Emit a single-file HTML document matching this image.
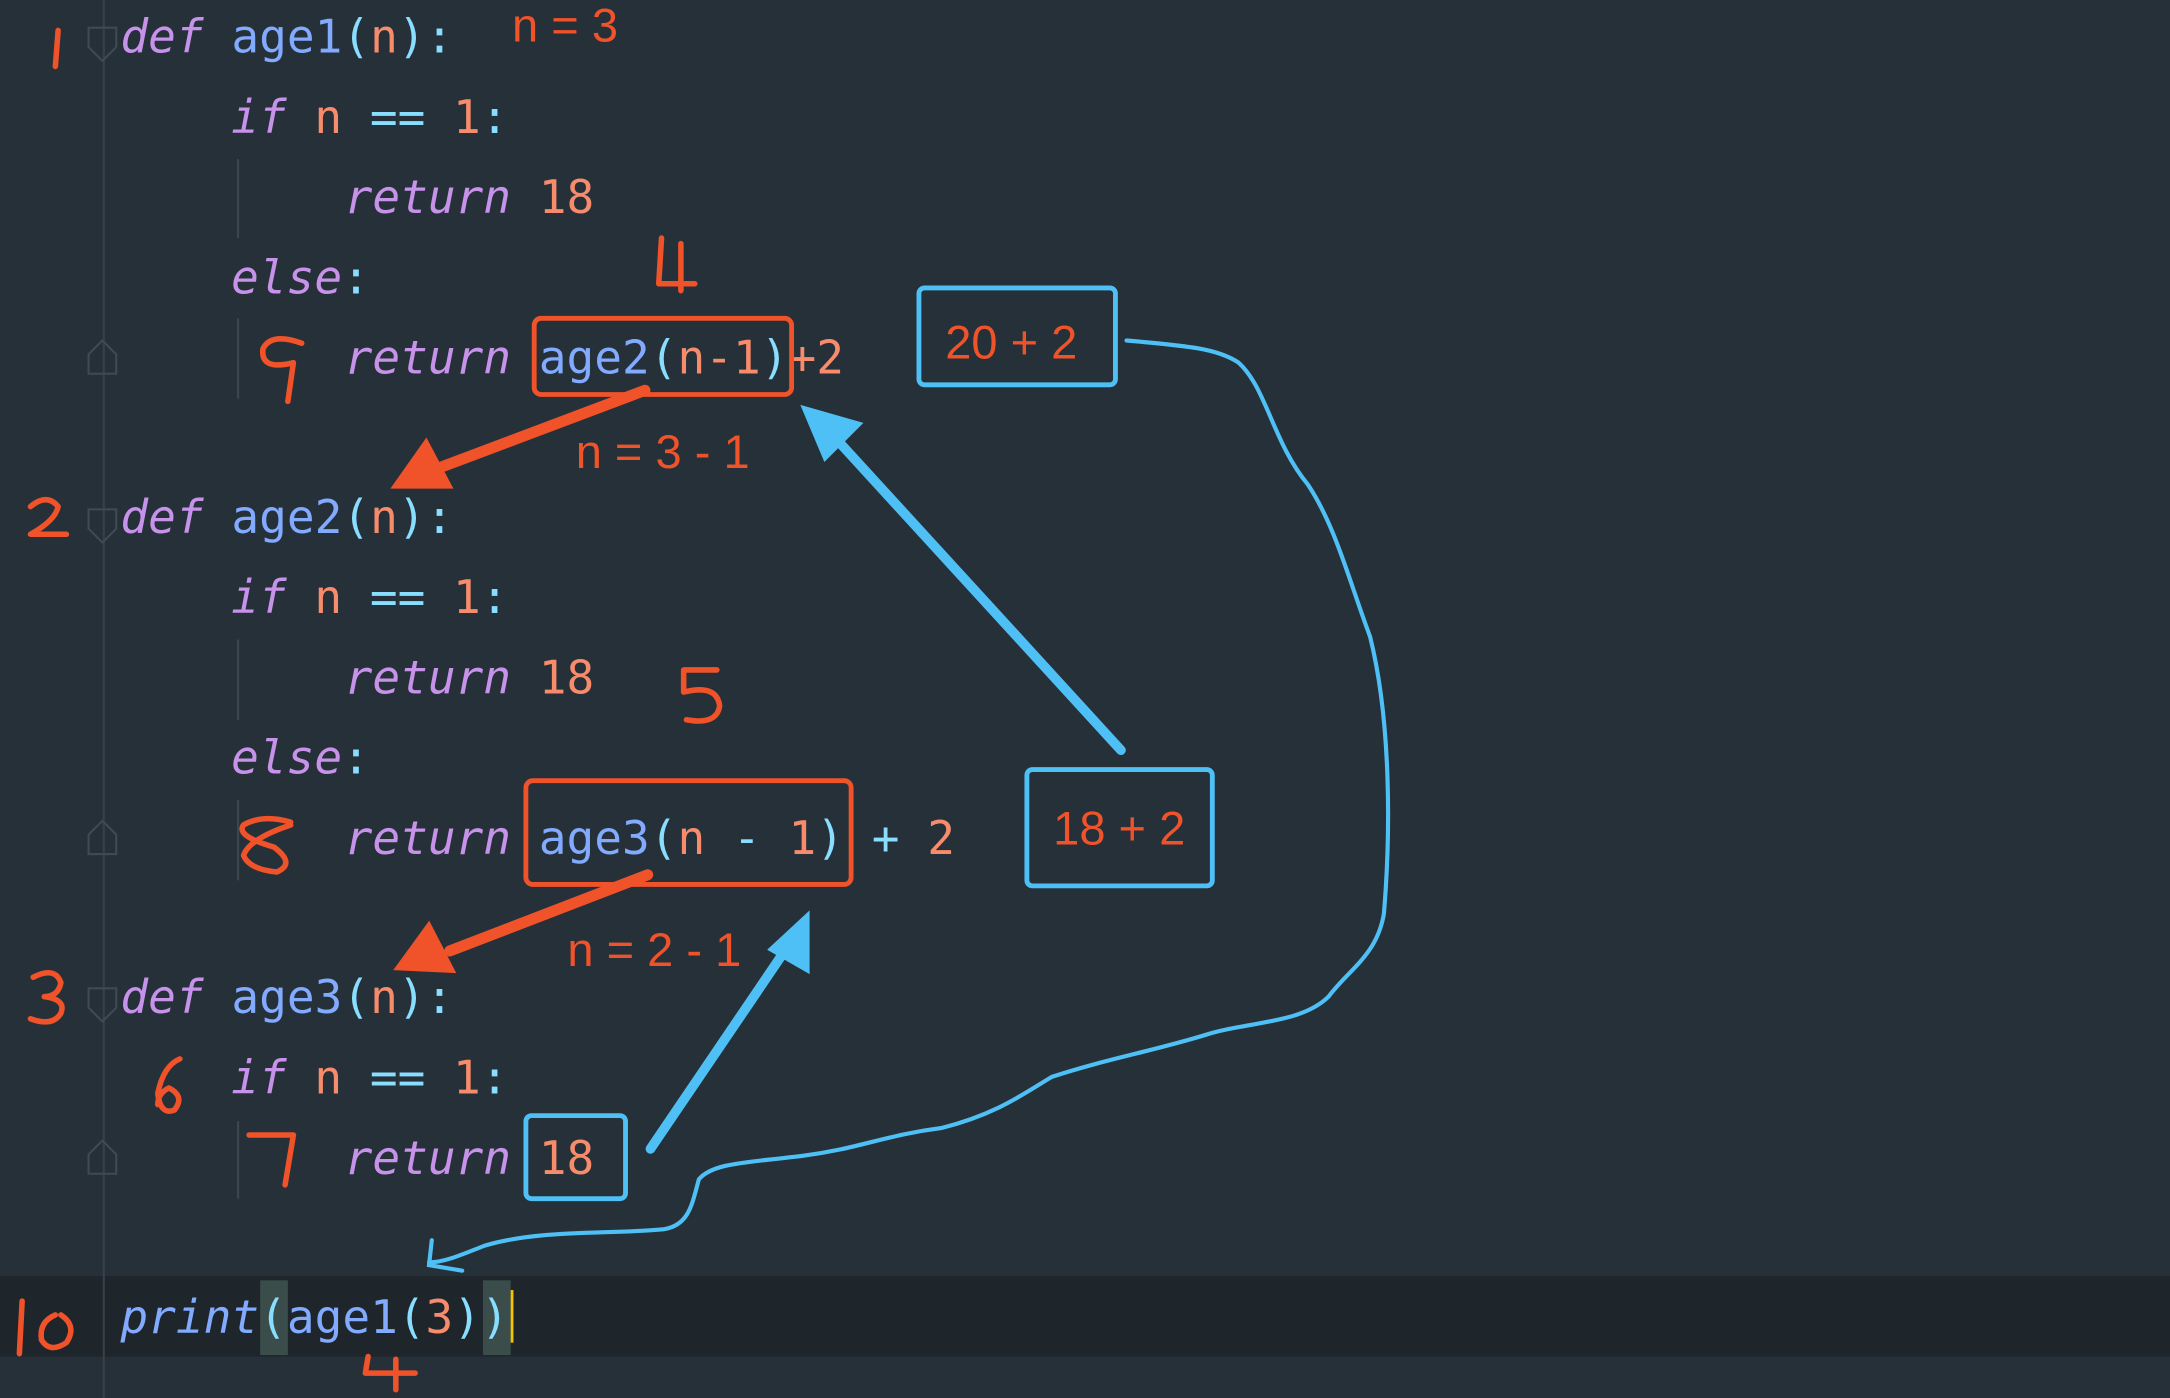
<!DOCTYPE html>
<html><head><meta charset="utf-8"><style>
html,body{margin:0;padding:0;background:#263038;}
svg{display:block}
.c{font-family:"DejaVu Sans Mono","Liberation Mono",monospace;font-size:33.3px}
.k{fill:#c792ea;font-style:italic}
.f{fill:#82aaff}
.o{fill:#f78c6c}
.p{fill:#89ddff}
.h{font-family:"Liberation Sans",sans-serif;font-size:34px;fill:#f0522a}
</style></head><body>
<svg width="2170" height="1398" viewBox="0 0 1568 1010" preserveAspectRatio="none" xmlns="http://www.w3.org/2000/svg">
<rect width="1568" height="1010" fill="#263038"/>
<rect y="922" width="1568" height="58" fill="#1e252b"/>
<line x1="75" y1="0" x2="75" y2="1010" stroke="#36424b" stroke-width="1.5"/>
<g stroke="#3a4650" stroke-width="1.5">
<line x1="172" y1="115" x2="172" y2="172"/><line x1="172" y1="230" x2="172" y2="288"/>
<line x1="172" y1="462" x2="172" y2="520"/><line x1="172" y1="578" x2="172" y2="636"/>
<line x1="172" y1="810" x2="172" y2="866"/>
</g>
<g fill="none" stroke="#3e4a54" stroke-width="1.5">
<path d="M64 20 h20 v14 l-10 10 l-10 -10z"/><path d="M64 368 h20 v14 l-10 10 l-10 -10z"/><path d="M64 714 h20 v14 l-10 10 l-10 -10z"/>
<path d="M64 270 h20 v-14 l-10 -10 l-10 10z"/><path d="M64 617 h20 v-14 l-10 -10 l-10 10z"/><path d="M64 848 h20 v-14 l-10 -10 l-10 10z"/>
</g>
<g class="c">
<text x="87" y="38"><tspan class="k">def</tspan> <tspan class="f">age1</tspan><tspan class="p">(</tspan><tspan class="o">n</tspan><tspan class="p">):</tspan></text>
<text x="167" y="96"><tspan class="k">if</tspan> <tspan class="o">n</tspan> <tspan class="p">==</tspan> <tspan class="o">1</tspan><tspan class="p">:</tspan></text>
<text x="249" y="154"><tspan class="k">return</tspan> <tspan class="o">18</tspan></text>
<text x="167" y="212"><tspan class="k">else</tspan><tspan class="p">:</tspan></text>
<text x="249" y="270"><tspan class="k">return</tspan> <tspan class="f">age2</tspan><tspan class="p">(</tspan><tspan class="o">n-1</tspan><tspan class="p">)</tspan><tspan class="o">+2</tspan></text>
<text x="87" y="385"><tspan class="k">def</tspan> <tspan class="f">age2</tspan><tspan class="p">(</tspan><tspan class="o">n</tspan><tspan class="p">):</tspan></text>
<text x="167" y="443"><tspan class="k">if</tspan> <tspan class="o">n</tspan> <tspan class="p">==</tspan> <tspan class="o">1</tspan><tspan class="p">:</tspan></text>
<text x="249" y="501"><tspan class="k">return</tspan> <tspan class="o">18</tspan></text>
<text x="167" y="559"><tspan class="k">else</tspan><tspan class="p">:</tspan></text>
<text x="249" y="617"><tspan class="k">return</tspan> <tspan class="f">age3</tspan><tspan class="p">(</tspan><tspan class="o">n</tspan> <tspan class="p">-</tspan> <tspan class="o">1</tspan><tspan class="p">)</tspan> <tspan class="p">+</tspan> <tspan class="o">2</tspan></text>
<text x="87" y="732"><tspan class="k">def</tspan> <tspan class="f">age3</tspan><tspan class="p">(</tspan><tspan class="o">n</tspan><tspan class="p">):</tspan></text>
<text x="167" y="790"><tspan class="k">if</tspan> <tspan class="o">n</tspan> <tspan class="p">==</tspan> <tspan class="o">1</tspan><tspan class="p">:</tspan></text>
<text x="249" y="848"><tspan class="k">return</tspan> <tspan class="o">18</tspan></text>
<rect x="188" y="925" width="20" height="54" fill="#3b4d4b"/><rect x="349" y="925" width="20" height="54" fill="#3b4d4b"/>
<rect x="369" y="932" width="2" height="38" fill="#f5c400"/>
<text x="87" y="963"><tspan class="f" font-style="italic">print</tspan><tspan class="p">(</tspan><tspan class="f">age1</tspan><tspan class="p">(</tspan><tspan class="o">3</tspan><tspan class="p">))</tspan></text>
</g>
<g fill="none" stroke="#f0522a" stroke-width="3.5">
<rect x="386" y="230" width="186" height="55" rx="5"/>
<rect x="380" y="564" width="235" height="75" rx="5"/>
</g>
<g fill="none" stroke="#4fc0f5" stroke-width="3.5">
<rect x="664" y="208" width="142" height="70" rx="4"/>
<rect x="742" y="556" width="134" height="84" rx="4"/>
<rect x="380" y="806" width="72" height="60" rx="4"/>
</g>
<g class="h">
<text x="683" y="259">20 + 2</text>
<text x="761" y="610">18 + 2</text>
<text x="370" y="30">n = 3</text>
<text x="416" y="338">n = 3 - 1</text>
<text x="410" y="698">n = 2 - 1</text>
</g>
<g fill="#f0522a" stroke="#f0522a" stroke-linecap="round">
<line x1="466" y1="282" x2="320" y2="337" stroke-width="8"/>
<polygon points="284,352 308,318 326,352" stroke-width="2"/>
<line x1="468" y1="632" x2="325" y2="687" stroke-width="8"/>
<polygon points="286,700 310,667 328,702" stroke-width="2"/>
</g>
<g fill="#4fc0f5" stroke="#4fc0f5" stroke-linecap="round">
<line x1="810" y1="542" x2="605" y2="318" stroke-width="7"/>
<polygon points="580,294 622,306 596,332" stroke-width="2"/>
<line x1="470" y1="830" x2="565" y2="690" stroke-width="7"/>
<polygon points="584,660 584,702 556,686" stroke-width="2"/>
</g>
<path d="M814 246 C860 250 880 252 895 262 C915 280 920 320 945 350 C965 380 975 420 990 460 C1005 520 1005 600 1000 660 C995 690 975 700 960 720 C940 740 900 738 870 748 C830 760 800 765 760 778 C740 790 720 805 680 815 C640 820 620 830 580 835 C540 840 515 840 505 852 C500 870 498 885 480 888 C440 892 390 888 350 900 C330 908 320 912 310 912" fill="none" stroke="#4fc0f5" stroke-width="3" stroke-linecap="round"/>
<path d="M312 896 L310 914 L334 918" fill="none" stroke="#4fc0f5" stroke-width="3" stroke-linecap="round"/>
<g fill="none" stroke="#f0522a" stroke-width="4" stroke-linecap="round" stroke-linejoin="round">
<path d="M42 22 L40 48"/>
<path d="M22 366 Q34 356 42 366 Q40 376 22 386 L48 386"/>
<path d="M24 706 Q40 698 44 710 Q42 720 32 720 Q48 722 44 732 Q38 742 22 736"/>
<path d="M478 172 L476 205 L502 205 M492 176 L492 210"/>
<path d="M518 484 L494 484 L494 500 Q518 494 520 510 Q518 524 496 520"/>
<path d="M130 765 Q118 770 114 790 Q116 806 126 802 Q134 792 122 786 Q114 790 114 798"/>
<path d="M218 248 Q196 240 190 252 Q188 268 212 262 L208 290"/>
<path d="M210 594 Q190 588 176 596 Q170 604 198 612 Q214 624 200 630 Q180 628 176 618 Q180 606 210 596"/>
<path d="M180 820 L212 820 L206 856"/>
<path d="M16 940 L14 978 M40 950 Q28 955 30 968 Q36 978 48 970 Q56 958 44 950"/>
<path d="M266 980 L264 992 L300 992 M286 982 L286 1004"/>
</g>
</svg>
</body></html>
